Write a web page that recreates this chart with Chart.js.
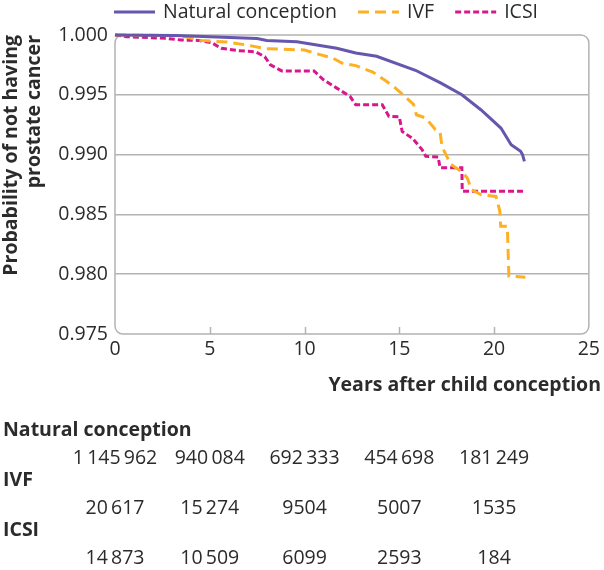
<!DOCTYPE html>
<html>
<head>
<meta charset="utf-8">
<script src="https://cdn.jsdelivr.net/npm/chart.js@4.4.1/dist/chart.umd.min.js"></script>
<style>
    html, body { margin: 0; padding: 0; background: #fff; }
    #wrap { width: 604px; height: 570px; }
</style>
</head>
<body>
<div id="wrap"><canvas id="chart" width="604" height="570"></canvas></div>
<script>
// Series labels
const seriesLabels = ['Natural conception', 'IVF', 'ICSI'];

// Natural conception (years, probability)
const naturalYears = [0, 3.2, 5, 7.5, 8, 9.6, 11.7, 12.7, 13.8, 15.85, 17.2, 18.3, 19.3, 20.36, 20.9, 21.4, 21.5, 21.6];
const naturalProb = [1.0, 0.99995, 0.99985, 0.9997, 0.99955, 0.99944, 0.99889, 0.9985, 0.99822, 0.99705, 0.99597, 0.995, 0.99375, 0.99222, 0.99083, 0.99028, 0.99, 0.98944];

// IVF
const ivfYears = [0, 3.4, 4.5, 6.0, 7.0, 8.0, 10.0, 10.6, 11.5, 12.0, 12.7, 13.6, 14.3, 14.8, 15.3, 15.75, 15.9, 16.4, 16.9, 17.15, 17.25, 17.7, 18.35, 18.6, 18.8, 19.3, 20.1, 20.3, 20.35, 20.7, 20.78, 21.65];
const ivfProb = [1.0, 0.99995, 0.99955, 0.9994, 0.99915, 0.99885, 0.99875, 0.99845, 0.99806, 0.99764, 0.99744, 0.9969, 0.99615, 0.99556, 0.99486, 0.9942, 0.99333, 0.99306, 0.9921, 0.9919, 0.99069, 0.9892, 0.9885, 0.988, 0.98708, 0.98665, 0.9865, 0.9853, 0.984, 0.984, 0.97985, 0.97975];

// ICSI
const icsiYears = [0, 0.6, 2.7, 3.5, 4.4, 5.1, 5.6, 6.5, 7.4, 7.9, 8.2, 8.8, 10.5, 11.0, 11.7, 12.4, 12.7, 14.1, 14.45, 15.0, 15.15, 15.7, 16.2, 16.4, 17.05, 17.15, 18.3, 18.32, 21.65];
const icsiProb = [1.0, 0.99986, 0.99972, 0.99958, 0.99955, 0.99936, 0.99889, 0.99869, 0.9986, 0.99819, 0.9975, 0.997, 0.997, 0.99625, 0.99556, 0.99486, 0.99417, 0.99417, 0.9932, 0.99315, 0.99194, 0.99135, 0.99042, 0.98985, 0.9898, 0.9889, 0.9889, 0.98694, 0.98694];

// Axis ticks
const xTicks = [0, 5, 10, 15, 20, 25];
const yTicks = [0.975, 0.980, 0.985, 0.990, 0.995, 1.000];
const xTitle = 'Years after child conception';
const yTitle = ['Probability of not having', 'prostate cancer'];

// Numbers at risk
const riskYears = [0, 5, 10, 15, 20];
const riskNatural = [1145962, 940084, 692333, 454698, 181249];
const riskIVF = [20617, 15274, 9504, 5007, 1535];
const riskICSI = [14873, 10509, 6099, 2593, 184];

const FONT = "'Open Sans', 'Noto Sans', sans-serif";
const TEXT = '#2b2b2b';
const GRID = '#b3b3b3';
const COLORS = ['#6656ad', '#fdb022', '#d8168d'];
const DASHES = [[], [11, 6], [6, 3]];

function pts(xs, ys) {
    return xs.map((x, i) => ({ x: x, y: ys[i] }));
}

// numbers under 10 000 have no separator, larger ones get a thin space
function fmtRisk(n) {
    if (n < 10000) return String(n);
    return String(n).replace(/\B(?=(\d{3})+(?!\d))/g, '\u2009');
}

const extras = {
    id: 'extras',
    beforeDatasetsDraw(chart) {
        const ctx = chart.ctx;
        const a = chart.chartArea;
        const xs = chart.scales.x;
        ctx.save();
        ctx.strokeStyle = GRID;
        ctx.lineWidth = 1.5;
        ctx.beginPath();
        ctx.roundRect(a.left, a.top, a.right - a.left, a.bottom - a.top, 8);
        ctx.stroke();
        // small tick marks along the bottom edge
        xTicks.slice(1, -1).forEach(v => {
            const px = Math.round(xs.getPixelForValue(v)) + 0.5;
            ctx.beginPath();
            ctx.moveTo(px, a.bottom);
            ctx.lineTo(px, a.bottom - 7);
            ctx.stroke();
        });
        ctx.restore();
    },
    afterDraw(chart) {
        const ctx = chart.ctx;
        const xs = chart.scales.x;
        ctx.save();

        // legend
        ctx.font = '19.5px ' + FONT;
        ctx.textBaseline = 'middle';
        ctx.textAlign = 'left';
        let lx = 114;
        const ly = 12;
        seriesLabels.forEach((lab, i) => {
            ctx.strokeStyle = COLORS[i];
            ctx.lineWidth = 3;
            ctx.setLineDash(DASHES[i]);
            ctx.beginPath();
            ctx.moveTo(lx, ly);
            ctx.lineTo(lx + 41, ly);
            ctx.stroke();
            ctx.setLineDash([]);
            ctx.fillStyle = TEXT;
            ctx.fillText(lab, lx + 49, ly);
            lx += 49 + ctx.measureText(lab).width + 21;
        });

        // x axis title, right aligned to the canvas edge
        ctx.font = 'bold 19.5px ' + FONT;
        ctx.textAlign = 'right';
        ctx.fillText(xTitle, 601, 385);

        // numbers at risk table
        const rows = [riskNatural, riskIVF, riskICSI];
        rows.forEach((vals, r) => {
            const labelY = 430 + r * 50;
            ctx.font = 'bold 19.5px ' + FONT;
            ctx.textAlign = 'left';
            ctx.fillStyle = TEXT;
            ctx.fillText(seriesLabels[r], 3, labelY);
            ctx.font = '19.5px ' + FONT;
            ctx.textAlign = 'center';
            vals.forEach((v, i) => {
                ctx.fillText(fmtRisk(v), xs.getPixelForValue(riskYears[i]), labelY + 28);
            });
        });
        ctx.restore();
    }
};

const ctx = document.getElementById('chart').getContext('2d');
new Chart(ctx, {
    type: 'line',
    data: {
        datasets: [
            { label: seriesLabels[0], data: pts(naturalYears, naturalProb) },
            { label: seriesLabels[1], data: pts(ivfYears, ivfProb) },
            { label: seriesLabels[2], data: pts(icsiYears, icsiProb) }
        ].map((d, i) => ({
            ...d,
            borderColor: COLORS[i],
            borderWidth: 3,
            borderDash: DASHES[i],
            pointRadius: 0,
            fill: false,
            tension: 0,
            clip: 4
        }))
    },
    options: {
        responsive: false,
        animation: false,
        devicePixelRatio: 1,
        layout: {
            padding: { top: 35, right: 11, bottom: 170, left: 0 }
        },
        plugins: {
            legend: { display: false },
            tooltip: { enabled: false }
        },
        scales: {
            x: {
                type: 'linear',
                min: 0,
                max: 25,
                afterBuildTicks: s => { s.ticks = xTicks.map(v => ({ value: v })); },
                afterFit: s => { s.height = 66; },
                grid: { display: false, drawTicks: false },
                border: { display: false },
                ticks: {
                    padding: 4,
                    color: TEXT,
                    font: { family: FONT, size: 19.5 },
                    maxRotation: 0
                }
            },
            y: {
                type: 'linear',
                min: 0.975,
                max: 1.0,
                afterBuildTicks: s => { s.ticks = yTicks.map(v => ({ value: v })); },
                afterFit: s => { s.width = 115; },
                grid: {
                    drawTicks: false,
                    lineWidth: 1.5,
                    color: c => (c.tick && (c.tick.value > 0.9999 || c.tick.value < 0.9751)) ? 'rgba(0,0,0,0)' : GRID
                },
                border: { display: false },
                ticks: {
                    padding: 7,
                    color: TEXT,
                    font: { family: FONT, size: 19.5 },
                    callback: v => v.toFixed(3)
                },
                title: {
                    display: true,
                    text: yTitle,
                    align: 'end',
                    color: TEXT,
                    font: { family: FONT, size: 19.5, weight: 'bold', lineHeight: 1.18 },
                    padding: { top: 0, bottom: 0 }
                }
            }
        }
    },
    plugins: [extras]
});
</script>
</body>
</html>
